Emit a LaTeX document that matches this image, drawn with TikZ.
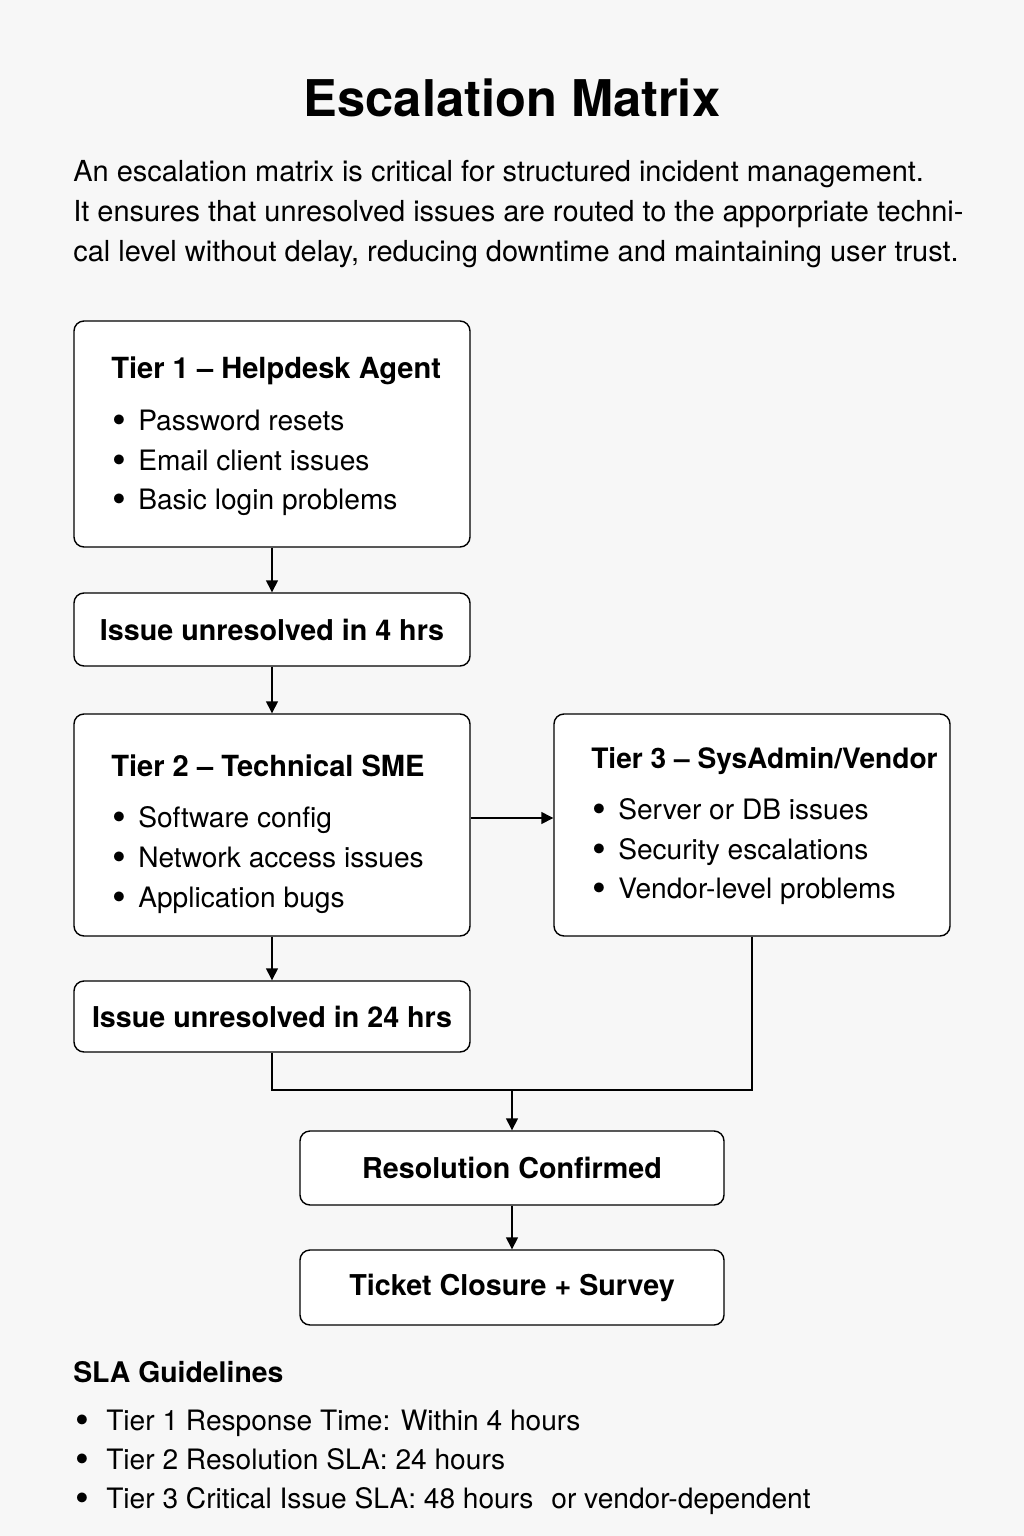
\documentclass[tikz,border=0pt]{standalone}
\usepackage{fontspec}
\setmainfont{TeX Gyre Heros}
\usetikzlibrary{arrows.meta}
\newcommand\bul[1]{\makebox[#1][l]{\raisebox{-0.12em}{\scalebox{1.4}{\textbullet}}}}
\tikzset{
    box/.style={draw, line width=1pt, rounded corners=2.5mm, fill=white,
        minimum width=99mm, inner sep=0pt},
    flow/.style={line width=1pt, -{Triangle[width=3mm,length=3mm]}},
    txt/.style={anchor=base west, inner sep=0pt},
    ttl/.style={txt, font=\fontsize{20.7}{24}\selectfont\bfseries},
    itm/.style={txt, font=\fontsize{20}{24}\selectfont},
    step label/.style={font=\fontsize{20.4}{25}\selectfont\bfseries},
}
\begin{document}
\begin{tikzpicture}[x=0.25mm, y=-0.25mm]
    \fill[black!3] (0,0) rectangle (1024,1536);
    \node[anchor=base, inner sep=0pt, font=\fontsize{36}{40}\selectfont\bfseries]
        (title) at (512,116) {Escalation Matrix};
    \foreach \y/\t in {181/An escalation matrix is critical for structured incident management.,
            221/It ensures that unresolved issues are routed to the apporpriate techni-,
            261/{cal level without delay, reducing downtime and maintaining user trust.}} {
        \node[txt, font=\fontsize{20.6}{24}\selectfont] (intro\y) at (73,\y) {\t};
    }

    \node[box, minimum height=56.5mm] (tier1) at (272,434) {};
    \node[box, minimum height=18.25mm, step label] (wait4) at (272,629.5) {Issue unresolved in 4 hrs};
    \node[box, minimum height=55.5mm] (tier2) at (272,825) {};
    \node[box, minimum height=55.5mm] (tier3) at (752,825) {};
    \node[box, minimum height=17.75mm, step label] (wait24) at (272,1016.5) {Issue unresolved in 24 hrs};
    \node[box, minimum width=106mm, minimum height=18.5mm, step label] (resolved) at (512,1168) {Resolution Confirmed};
    \node[box, minimum width=106mm, minimum height=18.75mm, step label] (closure) at (512,1287.5) {Ticket Closure + Survey};

    \node[ttl] (tier1ttl) at (111,378) {Tier 1 – Helpdesk Agent};
    \foreach \y/\t in {430/Password resets, 470/Email client issues, 509/Basic login problems} {
        \node[itm] (tier1\y) at (112,\y) {\bul{6.5mm}\t};
    }
    \node[ttl] (tier2ttl) at (111,776) {Tier 2 – Technical SME};
    \foreach \y/\t in {827/Software config, 867/Network access issues, 907/Application bugs} {
        \node[itm] (tier2\y) at (112,\y) {\bul{6.5mm}\t};
    }
    \node[ttl, font=\fontsize{20}{24}\selectfont\bfseries] (tier3ttl) at (591,768) {Tier 3 – SysAdmin/Vendor};
    \foreach \y/\t in {819/Server or DB issues, 859/Security escalations, 898/Vendor-level problems} {
        \node[itm] (tier3\y) at (592,\y) {\bul{6.5mm}\t};
    }

    \draw[flow] (tier1) -- (wait4);
    \draw[flow] (wait4) -- (tier2);
    \draw[flow] (tier2) -- (wait24);
    \draw[flow] ([yshift=1.75mm]tier2.east) -- ([yshift=1.75mm]tier3.west);
    \coordinate (join) at (512,1090);
    \draw[line width=1pt] (wait24) |- (join);
    \draw[line width=1pt] (tier3) |- (join);
    \draw[flow] (join) -- (resolved);
    \draw[flow] (resolved) -- (closure);

    \node[txt, font=\fontsize{20.2}{24}\selectfont\bfseries] (sla) at (73,1382) {SLA Guidelines};
    \foreach \y/\t in {1430/Tier 1 Response Time: Within 4 hours, 1469/Tier 2 Resolution SLA: 24 hours,
            1508/Tier 3 Critical Issue SLA: 48 hours\hspace{4.5mm}or vendor-dependent} {
        \node[itm] (sla\y) at (75,\y) {\bul{7.75mm}\t};
    }
\end{tikzpicture}
\end{document}
